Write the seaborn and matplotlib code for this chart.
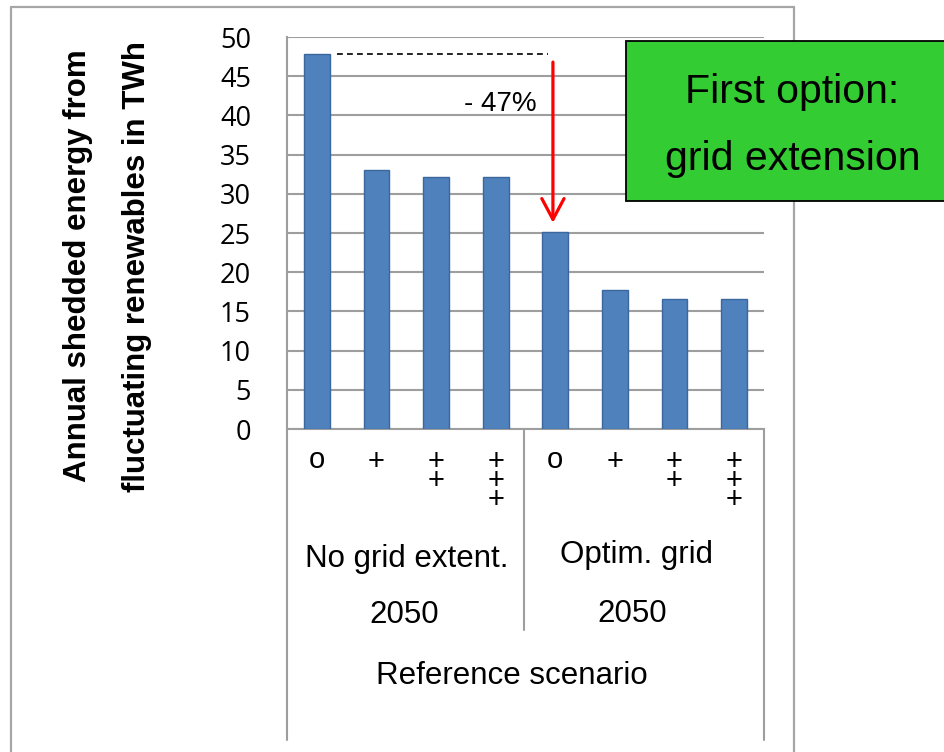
import matplotlib
matplotlib.use("Agg")
import matplotlib.pyplot as plt
import matplotlib.transforms as mtransforms
from matplotlib.lines import Line2D
from matplotlib.patches import Rectangle, FancyArrowPatch
import seaborn as sns
import pandas as pd

# ---------------- data ----------------
scenarios = ["o", "+", "+\n+", "+\n+\n+", "o", "+", "+\n+", "+\n+\n+"]
group_of_bar = ["No grid extent."] * 4 + ["Optim. grid"] * 4
group_names = ["No grid extent.", "Optim. grid"]
group_years = ["2050", "2050"]
values = [47.8, 33.0, 32.1, 32.1, 25.1, 17.7, 16.6, 16.6]
yticks = [0, 5, 10, 15, 20, 25, 30, 35, 40, 45, 50]
outer_label = "Reference scenario"
ylabel_lines = ["Annual shedded energy from", "fluctuating renewables in TWh"]
reduction_label = "- 47%"
box_lines = ["First option:", "grid extension"]

# ---------------- style ----------------
sns.set_theme(style="white")
plt.rcParams['font.family'] = ['Liberation Sans', 'DejaVu Sans']
plt.rcParams['text.color'] = 'black'
plt.rcParams['axes.labelcolor'] = 'black'
plt.rcParams['xtick.color'] = 'black'
plt.rcParams['ytick.color'] = 'black'

W, H = 945, 752
fig = plt.figure(figsize=(W / 100, H / 100), dpi=100)
fig.patch.set_facecolor("white")


def fx(px):
    return px / W


def fy(py):
    return 1 - py / H


ax = fig.add_axes([fx(287), fy(429), fx(764) - fx(287), fy(37) - fy(429)])

df = pd.DataFrame({
    "slot": [f"{g}|{i}" for i, g in enumerate(group_of_bar)],
    "value": values,
})
sns.barplot(data=df, x="slot", y="value", color="#4F81BD", saturation=1,
            width=0.43, edgecolor="#3A679C", linewidth=1.0, ax=ax, zorder=3)

ax.set_xlim(-0.5, len(values) - 0.5)
ax.set_ylim(0, 50)
ax.set_yticks(yticks)
ax.set_yticklabels([str(t) for t in yticks], fontfamily="Open Sans",
                   fontsize=19.5, color="black")
ax.tick_params(axis="y", length=0, pad=26)
ax.set_xticks(range(len(values)))
ax.set_xticklabels([])
ax.tick_params(axis="x", length=0)
ax.set_xlabel("")
ax.set_ylabel("")
ax.yaxis.grid(True, color="#9E9E9E", linewidth=1.5)
ax.xaxis.grid(False)
ax.set_axisbelow(True)
for s in ["top", "right"]:
    ax.spines[s].set_visible(False)
for s in ["left", "bottom"]:
    ax.spines[s].set_color("#9E9E9E")
    ax.spines[s].set_linewidth(1.5)

# scenario symbols under each bar (stacked lines in one text)
btr = mtransforms.blended_transform_factory(ax.transData, fig.transFigure)
for i, s in enumerate(scenarios):
    top = 445.5 if s.startswith("o") else 448.2
    ax.text(i, fy(top), s, transform=btr, ha="center", va="top",
            fontsize=21, color="black", linespacing=0.585,
            multialignment="center")

# category box lines (multi-level axis)
grey = "#9E9E9E"
for (x0, y0, x1, y1) in [(287, 429, 287, 740), (764, 429, 764, 740),
                         (524.5, 429, 524.5, 630)]:
    fig.add_artist(Line2D([fx(x0), fx(x1)], [fy(y0), fy(y1)],
                          transform=fig.transFigure, color=grey, lw=1.5))

# group labels
fig.text(fx(407), fy(567), group_names[0], ha="center", va="baseline", fontsize=22.5)
fig.text(fx(636.5), fy(563), group_names[1], ha="center", va="baseline", fontsize=22.5)
fig.text(fx(404), fy(623), group_years[0], ha="center", va="baseline", fontsize=22.5)
fig.text(fx(632.5), fy(622), group_years[1], ha="center", va="baseline", fontsize=22.5)
fig.text(fx(511.5), fy(684), outer_label, ha="center", va="baseline", fontsize=22.5)

# y label (two lines)
fig.text(fx(78), fy(266), ylabel_lines[0], rotation=90, ha="center",
         va="center", fontsize=22.5, fontweight="bold")
fig.text(fx(137), fy(266), ylabel_lines[1], rotation=90, ha="center",
         va="center", fontsize=22.5, fontweight="bold")

# outer frame
frame_c = "#A6A6A6"
for (x0, y0, x1, y1) in [(11, 7, 11, 760), (11, 7, 794, 7), (794, 7, 794, 760)]:
    fig.add_artist(Line2D([fx(x0), fx(x1)], [fy(y0), fy(y1)],
                          transform=fig.transFigure, color=frame_c, lw=1.6))

# dashed reference line from first bar level
ax.plot([0.34, 3.88], [values[0], values[0]], color="black", lw=1.2,
        linestyle=(0, (3.5, 2.5)), zorder=5, clip_on=False)

# red arrow down to fifth bar
arrow = FancyArrowPatch((3.96, values[0] - 1.0), (3.96, values[4] + 1.2),
                        arrowstyle="->,head_length=0.75,head_width=0.4",
                        mutation_scale=20, color="#FF0000", lw=2.3,
                        shrinkA=0, shrinkB=0, zorder=6, clip_on=False)
ax.add_patch(arrow)

# reduction label
fig.text(fx(537), fy(110.7), reduction_label, ha="right", va="baseline",
         fontsize=20, color="black")

# green option box
fig.add_artist(Rectangle((fx(626), fy(200.5)), fx(980) - fx(626),
                         fy(40.5) - fy(200.5), transform=fig.transFigure,
                         facecolor="#33CC33", edgecolor="black", lw=1.3,
                         zorder=10))
fig.text(fx(792.5), fy(103.3), box_lines[0], ha="center", va="baseline",
         fontsize=29.5, zorder=11, color="black")
fig.text(fx(792.5), fy(170), box_lines[1], ha="center", va="baseline",
         fontsize=29.5, zorder=11, color="black")

fig.savefig("out.png", dpi=100, facecolor="white")
